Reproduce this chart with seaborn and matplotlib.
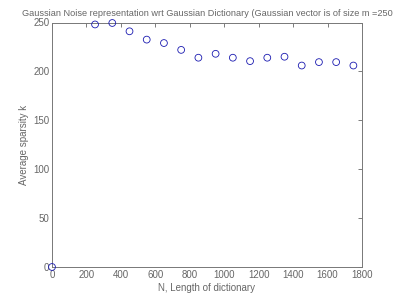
import matplotlib
matplotlib.use("Agg")
import matplotlib.pyplot as plt
import seaborn as sns
import pandas as pd

N = [0, 250, 350, 450, 550, 650, 750, 850, 950, 1050, 1150, 1250, 1350, 1450, 1550, 1650, 1750]
k = [0, 248, 249.5, 241, 232.5, 229, 222, 214, 218, 214, 210.5, 214, 215, 206, 209.5, 209.5, 206]
xticks = [0, 200, 400, 600, 800, 1000, 1200, 1400, 1600, 1800]
yticks = [0, 50, 100, 150, 200, 250]

df = pd.DataFrame({"N": N, "k": k})

sns.set_style("white")
plt.rcParams['font.family'] = ['Liberation Sans', 'DejaVu Sans']

fig = plt.figure(figsize=(4, 3), dpi=100)
ax = fig.add_axes([0.13, 0.11, 0.775, 0.815])
sns.scatterplot(data=df, x="N", y="k", ax=ax, marker="o", s=24,
                facecolors="none", edgecolor="#1a1ab0", linewidth=0.6,
                clip_on=False, zorder=5)
ax.set_xlim(0, 1800)
ax.set_ylim(0, 250)
ax.set_xticks(xticks)
ax.set_yticks(yticks)
tc = "#666666"
ax.tick_params(direction="in", length=3, width=0.6, colors=tc, labelsize=7,
               top=True, right=True, labelcolor="#666666", pad=2)
for s in ax.spines.values():
    s.set_color("#777777")
    s.set_linewidth(0.7)
ax.set_xlabel("N, Length of dictionary", fontsize=7, color="#666666", labelpad=2)
ax.set_ylabel("Average sparsity k", fontsize=7, color="#666666", labelpad=3)
ax.set_title("Gaussian Noise representation wrt Gaussian Dictionary (Gaussian vector is of size m =250",
             fontsize=6.6, color="#666666", pad=5)
fig.savefig("out.png", dpi=100)
